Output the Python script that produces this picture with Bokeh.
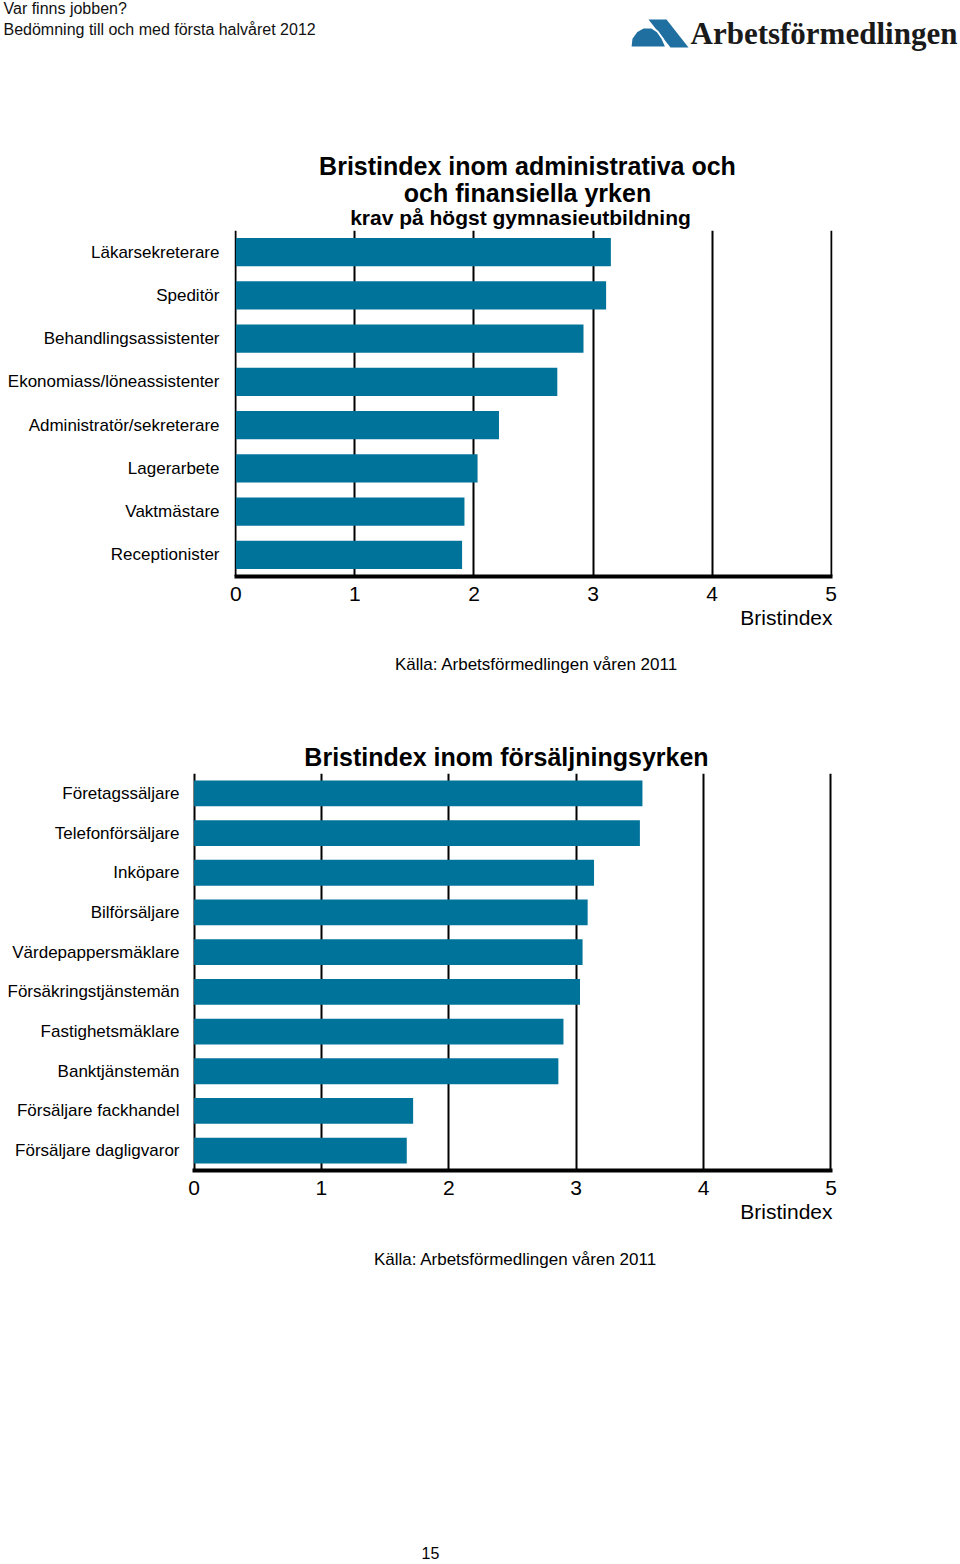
from bokeh.plotting import figure
from bokeh.models import Range1d, FixedTicker, ColumnDataSource, Title
from bokeh.layouts import column
from bokeh.embed import file_html
from bokeh.resources import INLINE
from bokeh.core.properties import value

# ---------------- data ----------------
admin_jobs = ["Läkarsekreterare", "Speditör", "Behandlingsassistenter",
              "Ekonomiass/löneassistenter", "Administratör/sekreterare",
              "Lagerarbete", "Vaktmästare", "Receptionister"]
admin_values = [3.15, 3.11, 2.92, 2.70, 2.21, 2.03, 1.92, 1.90]

sales_jobs = ["Företagssäljare", "Telefonförsäljare", "Inköpare", "Bilförsäljare",
              "Värdepappersmäklare", "Försäkringstjänstemän", "Fastighetsmäklare",
              "Banktjänstemän", "Försäljare fackhandel", "Försäljare dagligvaror"]
sales_values = [3.52, 3.50, 3.14, 3.09, 3.05, 3.03, 2.90, 2.86, 1.72, 1.67]

x_ticks = [0, 1, 2, 3, 4, 5]
x_title = "Bristindex"
source_text = "Källa: Arbetsförmedlingen våren 2011"
header_lines = ["Var finns jobben?", "Bedömning till och med första halvåret 2012"]
logo_text = "Arbetsförmedlingen"
title1_lines = ["Bristindex inom administrativa och", "och finansiella yrken"]
title1_sub = "krav på högst gymnasieutbildning"
title2 = "Bristindex inom försäljningsyrken"
page_number = "15"

FONT = "Liberation Sans"
BAR = "#00739A"
XMIN, XMAX = -0.012, 5.012
W = 960


def base_fig(height, **kw):
    p = figure(width=W, height=height, output_backend="svg", toolbar_location=None,
               frame_align=False, **kw)
    p.outline_line_color = None
    p.background_fill_color = "white"
    p.border_fill_color = "white"
    return p


def text_fig(height):
    p = base_fig(height, x_range=Range1d(0, W), y_range=Range1d(height, 0), min_border=0)
    p.axis.visible = False
    p.grid.grid_line_color = None
    return p


def put_text(p, top, X, Y, text, size, align="left", bold=False, font=FONT, color="black"):
    # Y is the wanted page baseline; shift to compensate the renderer's baseline offset
    px = float(size.replace("px", ""))
    p.text(x=[X], y=[Y - top - 0.43 * px], text=[text], text_font=value(font),
           text_font_size=value(size), text_align=align, text_baseline="alphabetic",
           text_font_style=value("bold" if bold else "normal"), text_color=color)


def bar_chart(jobs, vals, frame_h, bottom, left, right, standoff):
    n = len(jobs)
    pos = [n - 1 - i for i in range(n)]
    p = base_fig(frame_h + bottom, x_range=Range1d(XMIN, XMAX),
                 y_range=Range1d(-0.5, n - 0.5), min_border_left=left,
                 min_border_right=right, min_border_top=0, min_border_bottom=bottom)
    src = ColumnDataSource(dict(y=pos, right=vals, job=jobs))
    p.hbar(y="y", left=0, right="right", height=0.65, source=src,
           fill_color=BAR, line_color=None)
    # x axis
    p.xaxis.ticker = FixedTicker(ticks=x_ticks)
    p.xaxis.axis_line_color = "black"
    p.xaxis.axis_line_width = 4
    p.xaxis.major_tick_line_color = None
    p.xaxis.minor_tick_line_color = None
    p.xaxis.major_tick_out = 0
    p.xaxis.major_tick_in = 0
    p.xaxis.major_label_standoff = 10
    p.xaxis.major_label_text_font = FONT
    p.xaxis.major_label_text_font_size = "21px"
    p.xaxis.major_label_text_color = "black"
    # axis title, right-aligned under the axis
    p.add_layout(Title(text=x_title, align="right", text_font=FONT, text_font_size="21px",
                       text_font_style="normal", text_color="black", standoff=0), "below")
    # grid
    p.xgrid.ticker = FixedTicker(ticks=x_ticks)
    p.xgrid.grid_line_color = "black"
    p.xgrid.grid_line_width = 2
    p.ygrid.grid_line_color = None
    # y axis (category names)
    p.yaxis.ticker = FixedTicker(ticks=pos)
    p.yaxis.major_label_overrides = {pp: j for pp, j in zip(pos, jobs)}
    p.yaxis.axis_line_color = None
    p.yaxis.major_tick_line_color = None
    p.yaxis.minor_tick_line_color = None
    p.yaxis.major_tick_out = 0
    p.yaxis.major_tick_in = 0
    p.yaxis.major_label_standoff = standoff
    p.yaxis.major_label_text_font = FONT
    p.yaxis.major_label_text_font_size = "17px"
    p.yaxis.major_label_text_color = "black"
    return p


# ---------------- header (0..230) ----------------
T0 = 0
hdr = text_fig(230)
put_text(hdr, T0, 3, 15, header_lines[0], "16px", color="#111111")
put_text(hdr, T0, 3, 36, header_lines[1], "16px", color="#111111")
hdr.patch([648, 666, 688, 670], [19, 19, 47, 47], fill_color="#1f6fa0", line_color=None)
hdr.patch([630, 631, 636, 643, 651, 657, 662, 666], [47, 38, 31, 27, 27, 31, 38, 47],
          fill_color="#1f6fa0", line_color="white", line_width=2)
put_text(hdr, T0, 690, 46, logo_text, "31px", bold=True, font="Liberation Serif", color="#1a1a1a")
put_text(hdr, T0, 527, 176, title1_lines[0], "25px", align="center", bold=True)
put_text(hdr, T0, 527, 203, title1_lines[1], "25px", align="center", bold=True)
put_text(hdr, T0, 520, 226, title1_sub, "21px", align="center", bold=True)

# ---------------- chart 1 (230..636) ----------------
p1 = bar_chart(admin_jobs, admin_values, 346, 60, 234, 128, 15)

# ---------------- middle texts (636..773) ----------------
T1 = 636
mid = text_fig(137)
put_text(mid, T1, 536, 671, source_text, "17px", align="center")
put_text(mid, T1, 506, 767.5, title2, "25px", align="center", bold=True)

# ---------------- chart 2 (773..1230) ----------------
p2 = bar_chart(sales_jobs, sales_values, 397, 60, 192, 128, 13)

# ---------------- footer texts (1230..1562) ----------------
T2 = 1230
foot = text_fig(332)
put_text(foot, T2, 515, 1266, source_text, "17px", align="center")
put_text(foot, T2, 430, 1559, page_number, "16px", align="center")

layout = column(hdr, p1, mid, p2, foot, spacing=0)

html = file_html(layout, INLINE, title="Bristindex")
html = html.replace("<head>", "<head><style>html,body{margin:0;padding:0;background:white;}</style>", 1)
open("out.html", "w").write(html)
